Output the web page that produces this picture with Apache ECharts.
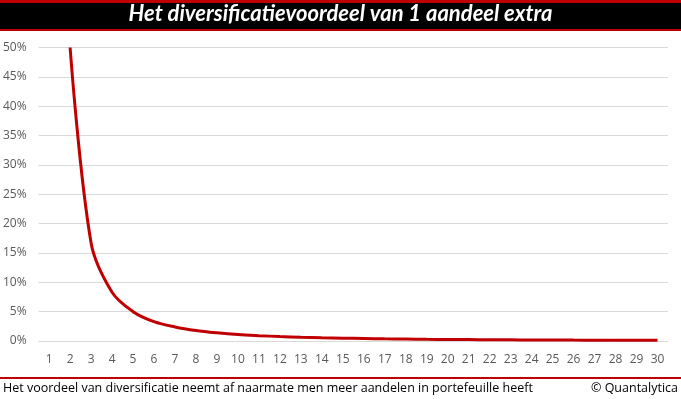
<!DOCTYPE html>
<html>
<head>
<meta charset="utf-8">
<title>Het diversificatievoordeel van 1 aandeel extra</title>
<script src="https://cdn.jsdelivr.net/npm/echarts@6/dist/echarts.min.js"></script>
<style>
  html, body { margin: 0; padding: 0; background: #fff; }
  #chart { width: 681px; height: 399px; }
</style>
</head>
<body>
<div id="chart"></div>
<script>
// aantal aandelen in portefeuille
const categories = ['1','2','3','4','5','6','7','8','9','10','11','12','13','14','15',
  '16','17','18','19','20','21','22','23','24','25','26','27','28','29','30'];
// voordeel van 1 extra aandeel (in %)
const benefit = ['-', 50, 16.7, 8.3, 5.0, 3.3, 2.4, 1.8, 1.4, 1.1, 0.91, 0.76, 0.64, 0.55,
  0.48, 0.42, 0.37, 0.33, 0.29, 0.26, 0.24, 0.22, 0.2, 0.18, 0.17, 0.15, 0.14, 0.13, 0.12, 0.11];
const yTicks = [0, 5, 10, 15, 20, 25, 30, 35, 40, 45, 50];

const titleText = 'Het diversificatievoordeel van 1 aandeel extra';
const footerText = 'Het voordeel van diversificatie neemt af naarmate men meer aandelen in portefeuille heeft';
const sourceText = '© Quantalytica';

const chart = echarts.init(document.getElementById('chart'));

const option = {
    animation: false,
    grid: { left: 38.5, right: 13, top: 47.5, bottom: 58 },
    graphic: [
        // titelbalk
        { type: 'rect', left: 0, top: 0, shape: { width: 681, height: 31 }, style: { fill: '#c00000' } },
        { type: 'rect', left: 0, top: 3, shape: { width: 681, height: 26 }, style: { fill: '#000' } },
        {
            type: 'text', left: 'center', top: 3,
            style: {
                text: titleText, fill: '#fff',
                font: 'italic bold 22px Lato, "Open Sans", sans-serif'
            }
        },
        // voettekst
        { type: 'rect', left: 0, top: 377, shape: { width: 681, height: 2 }, style: { fill: '#c00000' } },
        {
            type: 'text', left: 3, top: 382,
            style: { text: footerText, fill: '#000', font: '12.5px "Open Sans", sans-serif' }
        },
        {
            type: 'text', right: 3, top: 382,
            style: { text: sourceText, fill: '#000', font: '12.5px "Open Sans", sans-serif' }
        }
    ],
    xAxis: {
        type: 'category',
        data: categories,
        boundaryGap: true,
        axisLine: { show: false },
        axisTick: { show: false },
        axisLabel: { color: '#595959', fontSize: 12, fontFamily: '"Open Sans", sans-serif', margin: 13, interval: 0 }
    },
    yAxis: {
        type: 'value',
        min: yTicks[0],
        max: yTicks[yTicks.length - 1],
        interval: 5,
        axisLine: { show: false },
        axisTick: { show: false },
        splitLine: { lineStyle: { color: '#d9d9d9', width: 1 } },
        axisLabel: {
            color: '#595959', fontSize: 12, fontFamily: '"Open Sans", sans-serif', margin: 12,
            formatter: v => v + '%'
        }
    },
    series: [
        {
            type: 'line',
            data: benefit,
            smooth: 0.35,
            showSymbol: false,
            connectNulls: false,
            lineStyle: { color: '#c00000', width: 3 },
            itemStyle: { color: '#c00000' }
        }
    ]
};

chart.setOption(option);
</script>
</body>
</html>
